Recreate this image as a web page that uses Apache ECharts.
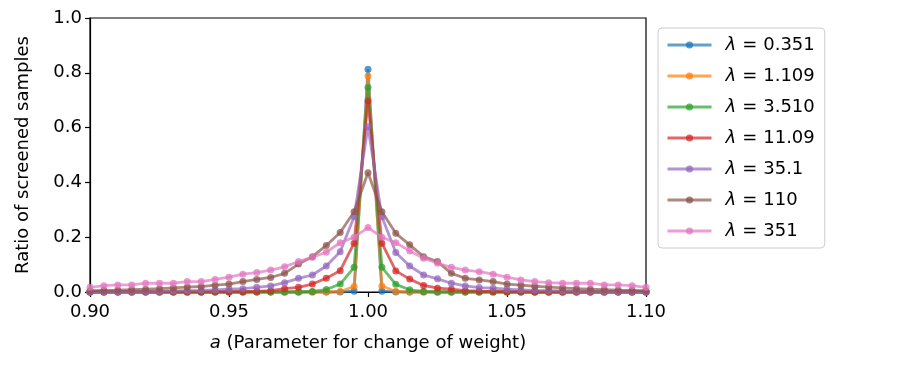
<!DOCTYPE html>
<html>
<head>
<meta charset="utf-8">
<script src="https://cdn.jsdelivr.net/npm/echarts@6/dist/echarts.min.js"></script>
<style>
  html, body { margin: 0; padding: 0; background: #fff; }
  #main { width: 900px; height: 375px; }
</style>
</head>
<body>
<div id="main"></div>
<script>
// x positions of the samples (a)
var xs = [0.900, 0.905, 0.910, 0.915, 0.920, 0.925, 0.930, 0.935, 0.940, 0.945,
          0.950, 0.955, 0.960, 0.965, 0.970, 0.975, 0.980, 0.985, 0.990, 0.995,
          1.000, 1.005, 1.010, 1.015, 1.020, 1.025, 1.030, 1.035, 1.040, 1.045,
          1.050, 1.055, 1.060, 1.065, 1.070, 1.075, 1.080, 1.085, 1.090, 1.095,
          1.100];

var names = ['0.351', '1.109', '3.510', '11.09', '35.1', '110', '351'];
var colors = ['#1f77b4', '#ff7f0e', '#2ca02c', '#d62728', '#9467bd', '#8c564b', '#e377c2'];

var lam0351 = [0, 0, 0, 0, 0, 0, 0, 0, 0, 0,
               0, 0, 0, 0, 0, 0, 0, 0, 0, 0.003,
               0.813, 0.003, 0, 0, 0, 0, 0, 0, 0, 0,
               0, 0, 0, 0, 0, 0, 0, 0, 0, 0,
               0];
var lam1109 = [0, 0, 0, 0, 0, 0, 0, 0, 0, 0,
               0, 0, 0, 0, 0, 0, 0, 0, 0.002, 0.020,
               0.788, 0.022, 0.002, 0, 0, 0, 0, 0, 0, 0,
               0, 0, 0, 0, 0, 0, 0, 0, 0, 0,
               0];
var lam3510 = [0, 0, 0, 0, 0, 0, 0, 0, 0, 0,
               0, 0, 0, 0, 0, 0, 0.002, 0.009, 0.029, 0.090,
               0.746, 0.090, 0.028, 0.008, 0.002, 0, 0, 0, 0, 0,
               0, 0, 0, 0, 0, 0, 0, 0, 0, 0,
               0];
var lam1109b = [0, 0, 0, 0, 0, 0, 0, 0, 0, 0.001,
                0.001, 0.001, 0.002, 0.005, 0.012, 0.017, 0.029, 0.050, 0.078, 0.178,
                0.697, 0.178, 0.077, 0.047, 0.024, 0.014, 0.010, 0.005, 0.003, 0.002,
                0.001, 0.001, 0, 0, 0, 0, 0, 0, 0, 0,
                0];
var lam351 = [0, 0.001, 0.001, 0.002, 0.002, 0.003, 0.004, 0.005, 0.006, 0.008,
              0.010, 0.012, 0.017, 0.022, 0.034, 0.050, 0.062, 0.095, 0.147, 0.275,
              0.603, 0.275, 0.144, 0.095, 0.062, 0.048, 0.032, 0.022, 0.016, 0.014,
              0.010, 0.008, 0.006, 0.005, 0.004, 0.003, 0.002, 0.002, 0.001, 0.001,
              0];
var lam110 = [0.005, 0.006, 0.007, 0.009, 0.010, 0.012, 0.015, 0.018, 0.020, 0.025,
              0.029, 0.038, 0.046, 0.053, 0.068, 0.102, 0.129, 0.170, 0.217, 0.293,
              0.435, 0.293, 0.214, 0.172, 0.129, 0.111, 0.068, 0.050, 0.044, 0.038,
              0.029, 0.025, 0.021, 0.018, 0.015, 0.012, 0.010, 0.009, 0.007, 0.006,
              0.005];
var lam3510b = [0.017, 0.023, 0.026, 0.026, 0.032, 0.032, 0.032, 0.038, 0.038, 0.046,
                0.054, 0.065, 0.071, 0.080, 0.092, 0.111, 0.127, 0.145, 0.180, 0.200,
                0.235, 0.200, 0.180, 0.150, 0.123, 0.105, 0.090, 0.080, 0.074, 0.065,
                0.054, 0.044, 0.038, 0.034, 0.032, 0.032, 0.032, 0.026, 0.026, 0.023,
                0.017];

var allData = [lam0351, lam1109, lam3510, lam1109b, lam351, lam110, lam3510b];

var FONT = 'DejaVu Sans';

var chart = echarts.init(document.getElementById('main'));

var series = [];
for (var k = 0; k < allData.length; k++) {
    var pts = [];
    for (var i = 0; i < xs.length; i++) {
        pts.push([xs[i], allData[k][i]]);
    }
    series.push({
        name: names[k],
        type: 'line',
        data: pts,
        clip: false,
        symbol: 'circle',
        symbolSize: 7,
        showSymbol: true,
        color: colors[k],
        lineStyle: { width: 2.8, opacity: 0.7 },
        itemStyle: { opacity: 0.75 },
        emphasis: { disabled: true }
    });
}

var option = {
    animation: false,
    textStyle: { fontFamily: FONT },
    grid: {
        left: 90, right: 254, top: 18, bottom: 83,
        show: true, borderColor: '#000', borderWidth: 1.2
    },
    legend: {
        orient: 'vertical',
        left: 658, top: 28,
        padding: [7, 10, 7, 8],
        itemWidth: 44, itemHeight: 9, itemGap: 11,
        backgroundColor: '#fff',
        borderColor: '#cccccc', borderWidth: 1, borderRadius: 4,
        lineStyle: { width: 3, opacity: 0.7 },
        data: names,
        formatter: function (n) { return '{i|λ}{e|=}' + n; },
        textStyle: {
            fontFamily: FONT, fontSize: 18, color: '#000', lineHeight: 20,
            padding: [0, 0, 0, 9],
            rich: {
                i: { fontStyle: 'italic', fontSize: 18, fontFamily: FONT },
                e: { fontSize: 18, fontFamily: FONT, padding: [0, 6, 0, 6] }
            }
        }
    },
    xAxis: {
        type: 'value',
        min: 0.9, max: 1.1, interval: 0.05,
        name: '{i|a} (Parameter for change of weight)',
        nameLocation: 'middle', nameGap: 42,
        nameTextStyle: {
            fontFamily: FONT, fontSize: 18, color: '#000',
            rich: { i: { fontStyle: 'italic', fontSize: 18, fontFamily: FONT } }
        },
        axisLine: { show: true, lineStyle: { color: '#000', width: 1.2 } },
        axisTick: { show: true, inside: false, length: 5, lineStyle: { color: '#000', width: 1.2 } },
        axisLabel: {
            fontFamily: FONT, fontSize: 18, color: '#000', margin: 11,
            formatter: function (v) { return v.toFixed(2); }
        },
        splitLine: { show: false }
    },
    yAxis: {
        type: 'value',
        min: 0, max: 1, interval: 0.2,
        name: 'Ratio of screened samples',
        nameLocation: 'middle', nameGap: 58,
        nameTextStyle: { fontFamily: FONT, fontSize: 18, color: '#000' },
        axisLine: { show: true, lineStyle: { color: '#000', width: 1.2 } },
        axisTick: { show: true, inside: false, length: 5, lineStyle: { color: '#000', width: 1.2 } },
        axisLabel: {
            fontFamily: FONT, fontSize: 18, color: '#000', margin: 8,
            formatter: function (v) { return v.toFixed(1); }
        },
        splitLine: { show: false }
    },
    series: series
};

chart.setOption(option);
</script>
</body>
</html>
